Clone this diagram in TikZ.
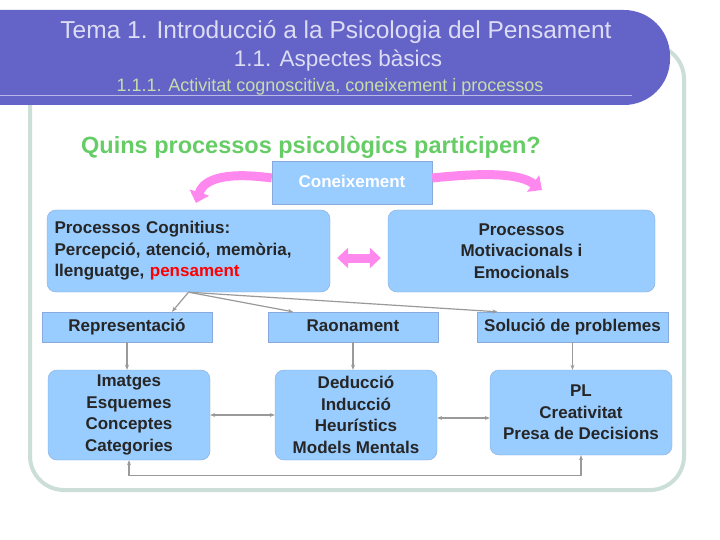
\documentclass[tikz,border=0pt]{standalone}
\usepackage{fontspec}
\setmainfont{Liberation Sans}
\usetikzlibrary{positioning,arrows.meta,calc}

\tikzstyle{box}=[draw=BoxLine, fill=BoxFill, text=black!85, align=center, inner sep=0pt, font=\bfseries\fontsize{17}{21.5}\selectfont]
\tikzstyle{big-box}=[box, rounded corners=9pt]
\tikzstyle{line-box}=[box, text height=12pt, text depth=3.5pt]
\tikzstyle{link}=[draw=Link, line width=1.2pt, -{Stealth[length=5pt,width=4pt]}]
\tikzstyle{two-link}=[link, {Stealth[length=5pt,width=4pt]}-{Stealth[length=5pt,width=4pt]}]
\tikzstyle{fat-arrow}=[draw=Pink, line width=9pt, -{Triangle[length=11pt,width=20pt]}]
\definecolor{Banner}{HTML}{6464C8}
\definecolor{BannerText}{HTML}{DCDCF4}
\definecolor{BannerLink}{HTML}{C8DCAA}
\definecolor{Frame}{HTML}{CCDED8}
\definecolor{BoxFill}{HTML}{99CCFF}
\definecolor{BoxLine}{HTML}{88AADC}
\definecolor{Question}{HTML}{66CC66}
\definecolor{Pink}{HTML}{FF88EE}
\definecolor{Link}{HTML}{9A9A9A}

\begin{document}
\begin{tikzpicture}[x=1pt, y=-1pt]
      \useasboundingbox (0,0) rectangle (720,540);
      % frame and title banner
      \draw[Frame, line width=4pt, rounded corners=34pt] (30,45) rectangle (684,490);
      \fill[Banner, rounded corners=46pt] (-60,10) rectangle (670,105);
      \draw[BannerText!70!Banner, line width=1pt] (0,96) -- (632,96);
      \node (title:1) at (336,32) [text=BannerText, font=\fontsize{24.5}{28}\selectfont] {Tema 1. Introducció a la Psicologia del Pensament};
      \node (title:2) at (338,61) [text=BannerText, font=\fontsize{22.5}{26}\selectfont] {1.1. Aspectes bàsics};
      \node (title:3) at (330,87) [text=BannerLink, font=\fontsize{18}{20}\selectfont] {1.1.1. Activitat cognoscitiva, coneixement i processos};

      \node (question) at (311,147) [text=Question, font=\bfseries\fontsize{23.5}{28}\selectfont] {Quins processos psicològics participen?};

      % upper boxes
      \node (know) at (352,183) [line-box, minimum width=160pt, minimum height=43pt, text=white] {Coneixement};
      \node (cog) at (188.5,251) [big-box, minimum width=283pt, minimum height=82pt, text width=268pt, align=left] {Processos Cognitius:\\Percepció, atenció, memòria,\\llenguatge, \textcolor{red}{pensament}};
      \node (emo) at (521.5,251) [big-box, minimum width=267pt, minimum height=82pt] {Processos\\Motivacionals i\\Emocionals};

      % middle row
      \node (rep) at (127,327) [line-box, minimum width=170pt, minimum height=30pt] {Representació};
      \node (rai) at (353,327) [line-box, minimum width=170pt, minimum height=30pt] {Raonament};
      \node (sol) at (572.5,327) [line-box, minimum width=191pt, minimum height=30pt] {Solució de problemes};

      % lower row
      \node (img) at (129,415) [big-box, minimum width=162pt, minimum height=90pt] {Imatges\\Esquemes\\Conceptes\\Categories};
      \node (ded) at (356,415) [big-box, minimum width=162pt, minimum height=90pt] {Deducció\\Inducció\\Heurístics\\Models Mentals};
      \node (pl) at (581,412.5) [big-box, minimum width=182pt, minimum height=85pt] {PL\\Creativitat\\Presa de Decisions};

      % pink arrows
      \draw[fat-arrow] ([yshift=5pt]know.west) .. controls (228,172) and (204,178) .. (196,203);
      \draw[fat-arrow] ([yshift=5pt]know.east) .. controls (490,172) and (520,174) .. (542,190);
      \draw[fat-arrow, {Triangle[length=11pt,width=20pt]}-{Triangle[length=11pt,width=20pt]}, shorten <=7pt, shorten >=7pt] ([yshift=-7pt]cog.east) -- ([yshift=-7pt]emo.west);

      % connectors
      \draw[link] (cog.south) -- ([xshift=45pt]rep.north);
      \draw[link] (cog.south) -- ([xshift=-60pt]rai.north);
      \draw[link] (cog.south) -- ([xshift=-75pt]sol.north);
      \draw[link] (rep.south) -- (rep.south |- img.north);
      \draw[link] (rai.south) -- (rai.south |- ded.north);
      \draw[link] (sol.south) -- (sol.south |- pl.north);
      \draw[two-link] (img.east) -- (ded.west);
      \draw[two-link] ([yshift=-3pt]ded.east) -- ([yshift=-3pt]ded.east -| pl.west);
      \draw[two-link] (img.south) -- ++(0,15) -| (pl.south);
    \end{tikzpicture}
\end{document}
